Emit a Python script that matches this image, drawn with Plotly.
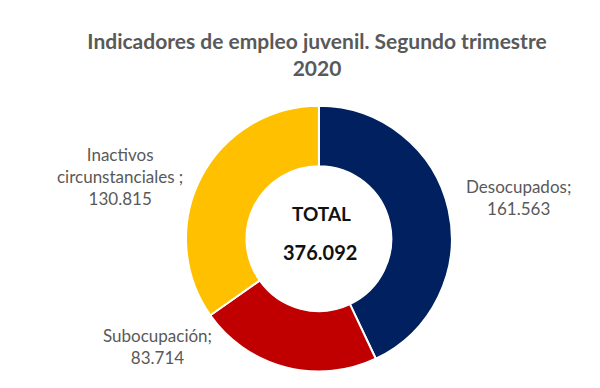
import plotly.graph_objects as go

labels = ["Desocupados", "Subocupación", "Inactivos circunstanciales "]
values = [161563, 83714, 130815]
value_text = ["161.563", "83.714", "130.815"]
colors = ["#002060", "#C00000", "#FFC000"]
total_text = "376.092"
title = "Indicadores de empleo juvenil. Segundo trimestre<br>2020"

fig = go.Figure(go.Pie(
    labels=labels, values=values, hole=0.545, sort=False,
    direction="clockwise", rotation=0,
    marker=dict(colors=colors, line=dict(color="white", width=2)),
    textinfo="none", hoverinfo="label+value",
    domain=dict(x=[0.31, 0.753], y=[0.04, 0.73]),
))

gray = "#595959"
ann = []
pos = [(518, 197), (158, 346), (120, 177)]
for (lx, ly), lab, vt in zip(pos, labels, value_text):
    if lab.startswith("Inactivos"):
        txt = "Inactivos<br>circunstanciales ;<br>" + vt
    else:
        txt = lab + ";<br>" + vt
    ann.append(dict(x=lx / 600, y=1 - ly / 388, xref="paper", yref="paper",
                    xanchor="center", yanchor="middle",
                    text=txt, showarrow=False, align="center",
                    font=dict(family="Lato", size=17, color=gray)))
ann.append(dict(x=321 / 600, y=1 - 213 / 388, xref="paper", yref="paper",
                xanchor="center", yanchor="middle",
                text="<b>TOTAL</b>", showarrow=False,
                font=dict(family="Lato", size=19, color="#111111")))
ann.append(dict(x=320 / 600, y=1 - 252 / 388, xref="paper", yref="paper",
                xanchor="center", yanchor="middle",
                text="<b>" + total_text + "</b>", showarrow=False,
                font=dict(family="Lato", size=20, color="#111111")))

fig.update_layout(
    width=600, height=388,
    margin=dict(l=0, r=0, t=0, b=0),
    paper_bgcolor="white", plot_bgcolor="white",
    showlegend=False,
    title=dict(text="<b>" + title + "</b>", x=317 / 600, xanchor="center",
               y=1 - 49 / 388, yanchor="middle",
               font=dict(family="Lato", size=21, color=gray)),
    annotations=ann,
)
fig.write_html("out.html", config={"displayModeBar": False},
               post_script="document.body.style.margin='0';")
